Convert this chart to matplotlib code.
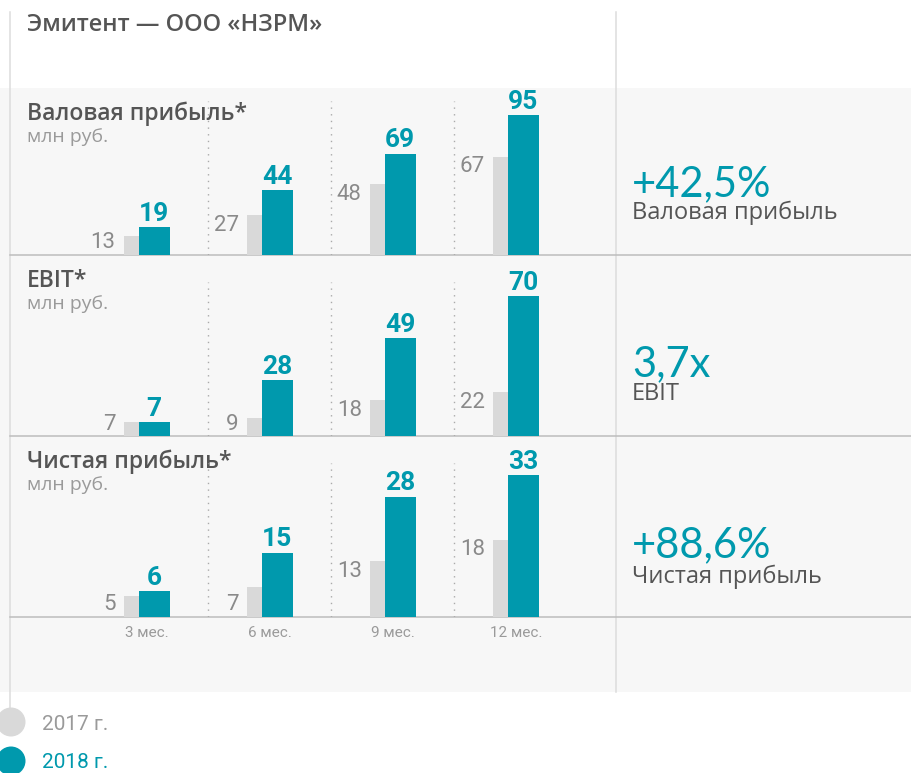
import matplotlib
matplotlib.use('Agg')
import matplotlib.pyplot as plt
from matplotlib.patches import Rectangle, Circle
import numpy as np

# ---------------- data ----------------
title = 'Эмитент — ООО «НЗРМ»'
periods = ['3 мес.', '6 мес.', '9 мес.', '12 мес.']
gross_2017 = [13, 27, 48, 67]
gross_2018 = [19, 44, 69, 95]
ebit_2017 = [7, 9, 18, 22]
ebit_2018 = [7, 28, 49, 70]
net_2017 = [5, 7, 13, 18]
net_2018 = [6, 15, 28, 33]
panel_titles = ['Валовая прибыль*', 'EBIT*', 'Чистая прибыль*']
unit_label = 'млн руб.'
kpi_values = ['+42,5%', '3,7x', '+88,6%']
kpi_labels = ['Валовая прибыль', 'EBIT', 'Чистая прибыль']
years = ['2017 г.', '2018 г.']

series_2017 = [gross_2017, ebit_2017, net_2017]
series_2018 = [gross_2018, ebit_2018, net_2018]

# ---------------- style ----------------
TEAL = '#0099ad'
GREY_BAR = '#d9d9d9'
BG = '#f7f7f7'
DARK = '#555555'
MID = '#8a8a8a'
LIGHT = '#9a9a9a'
LINE = '#bdbdbd'
VLINE = '#dcdcdc'
FONT = ['Roboto', 'DejaVu Sans']
WIDE = ['Open Sans', 'Roboto', 'DejaVu Sans']
plt.rcParams['font.family'] = FONT

W, H = 911, 773
PT = 0.72  # points per pixel at dpi 100

fig = plt.figure(figsize=(W / 100, H / 100), dpi=100)
fig.patch.set_facecolor('white')

bg = fig.add_axes([0, 0, 1, 1])
bg.set_xlim(0, W)
bg.set_ylim(H, 0)
bg.axis('off')
bg.add_patch(Rectangle((0, 88), W, 604, facecolor=BG, lw=0, zorder=0))
bg.plot([10, 10], [12, 708], color=VLINE, lw=1.1, zorder=1)
bg.plot([616, 616], [12, 692], color=VLINE, lw=1.1, zorder=1)

tops = [88, 255, 436]
bases = [255, 436, 617]
ylim_tops = [113.6, 90.5, 42.1]
for b in bases:
    bg.plot([10, W], [b, b], color=LINE, lw=1.1, zorder=1)

bg.text(27, 31, title, fontsize=17, fontweight='semibold', color=DARK,
        va='baseline', family=WIDE)

# x geometry (px): group centre = 146.6 + 123.1*i
GX0, GSTEP = 146.6, 123.1
X0, X1 = 10, 616
xl = (X0 - GX0) / GSTEP
xr = (X1 - GX0) / GSTEP
bw = 31 / GSTEP
off = 7.5 / GSTEP
x = np.arange(len(periods))

for k in range(3):
    T, B = tops[k], bases[k]
    ax = fig.add_axes([X0 / W, 1 - B / H, (X1 - X0) / W, (B - T) / H])
    ax.set_xlim(xl, xr)
    ax.set_ylim(0, ylim_tops[k])
    ax.axis('off')
    ax.patch.set_alpha(0)
    ppu = (B - T) / ylim_tops[k]

    ax.bar(x - off, series_2017[k], width=bw, color=GREY_BAR, zorder=2)
    ax.bar(x + off, series_2018[k], width=bw, color=TEAL, zorder=3)

    for xm in x[:-1] + 0.5:
        ax.plot([xm, xm], [0, 154 / ppu], color='#aaaaaa', lw=1.0,
                linestyle=(0, (1, 3.8)), zorder=1)

    for i, v in enumerate(series_2018[k]):
        ax.annotate(str(v), xy=(x[i] + off, v), xytext=(0, 6.5 * PT),
                    textcoords='offset points', ha='center', va='baseline',
                    fontsize=19, fontweight='bold', color=TEAL)
    for i, v in enumerate(series_2017[k]):
        left = x[i] - off - bw / 2
        if v * ppu < 34:
            ax.annotate(str(v), xy=(left, 0), xytext=(-8 * PT, 6.5 * PT),
                        textcoords='offset points', ha='right', va='baseline',
                        fontsize=16, color=MID)
        else:
            ax.annotate(str(v), xy=(left, v), xytext=(-8 * PT, -15.8 * PT),
                        textcoords='offset points', ha='right', va='baseline',
                        fontsize=16, color=MID)

    if k == 2:
        for i, p in enumerate(periods):
            ax.annotate(p, xy=(x[i], 0), xytext=(0, -20 * PT),
                        textcoords='offset points', ha='center', va='baseline',
                        fontsize=11, color=LIGHT)

    # panel titles
    bg.text(27, T + 32, panel_titles[k], fontsize=16.5, fontweight='semibold',
            color=DARK, va='baseline', family=WIDE)
    bg.text(27, T + 54, unit_label, fontsize=14, color=LIGHT, va='baseline',
            family=WIDE)

# KPI side
kpi_base = [196, 376, 557]
kpi_lab_base = [219, 400, 583]
for k in range(3):
    bg.text(632, kpi_base[k], kpi_values[k], fontsize=30, color=TEAL,
            va='baseline', family=['Lato', 'Roboto', 'DejaVu Sans'])
    bg.text(632, kpi_lab_base[k], kpi_labels[k], fontsize=17, color=DARK,
            va='baseline', family=WIDE)

# legend
leg_y = [722, 761]
leg_col = [GREY_BAR, TEAL]
leg_txt = [LIGHT, TEAL]
for j in range(2):
    bg.add_patch(Circle((11, leg_y[j]), 14.5, facecolor=leg_col[j], lw=0, zorder=3))
    bg.text(42, leg_y[j] + 7.5, years[j], fontsize=15, color=leg_txt[j],
            va='baseline')

fig.savefig('out.png', dpi=100, facecolor='white')
